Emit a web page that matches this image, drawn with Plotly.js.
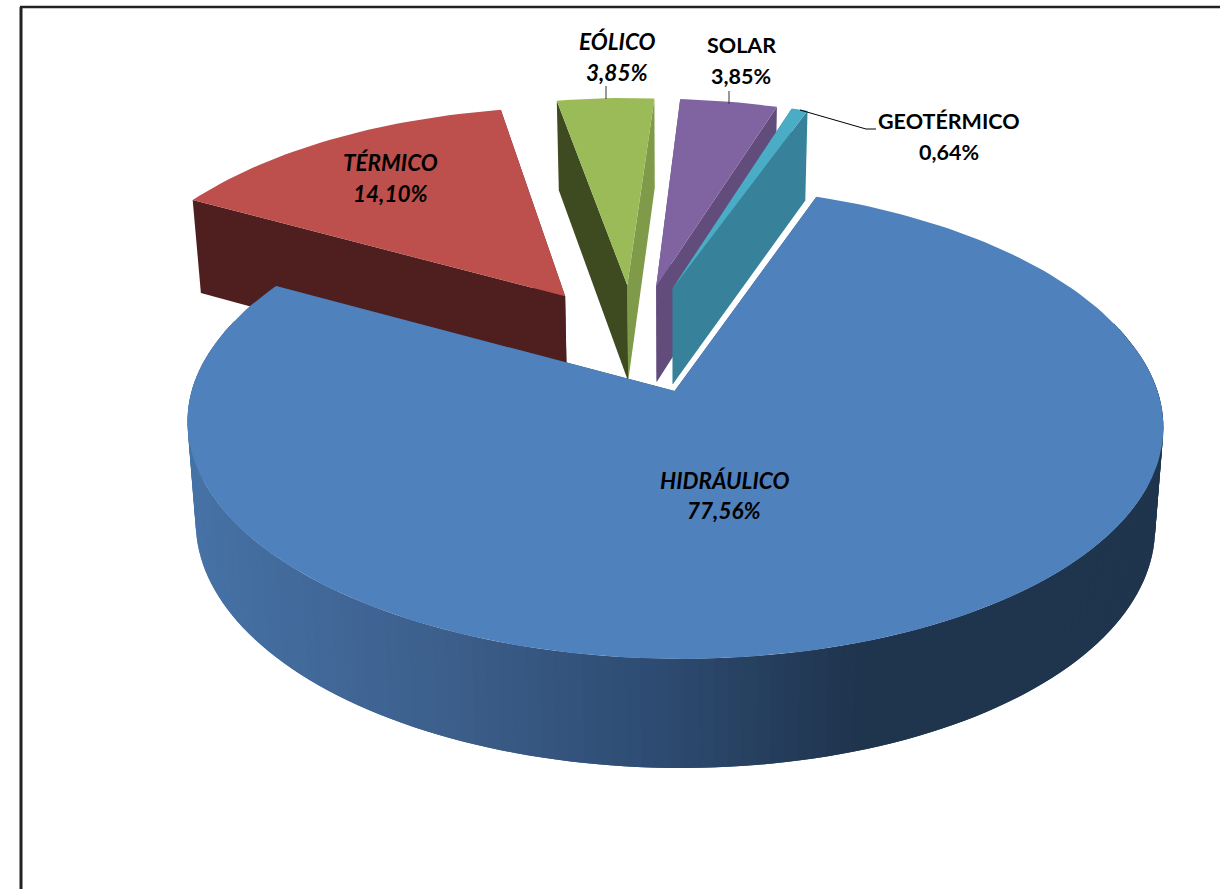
<!DOCTYPE html>
<html><head><meta charset="utf-8">
<script src="https://cdn.plot.ly/plotly-3.0.1.min.js"></script>
<style>html,body{margin:0;padding:0;background:#fff;overflow:hidden}</style></head>
<body><div id="chart" style="width:1220px;height:889px"></div>
<script>
const categories=["HIDRÁULICO","TÉRMICO","EÓLICO","SOLAR","GEOTÉRMICO"];
const values=[77.56,14.10,3.85,3.85,0.64];
const topColors=["#4F81BD","#BD4F4C","#9BBB59","#8064A2","#4BACC6"];
const startWall=["#2E4C73","#4E1F1E","#3E4B20","#624C7C","#37829A"];
const endWall=["#2E4C73","#4E1F1E","#7F9A48","#624C7C","#37829A"];
const pull=[0.24,0.26,0.265,0.265,0.265];
const labelItalic=[true,true,true,false,false];
const rimStops=[[190,[70,114,166]],[450,[60,94,138]],[650,[46,76,115]],[860,[31,52,77]],[1220,[31,52,77]]];
const firstAngle=19.9;

const D=Math.PI/180;
function proj(u,v,low){
  const wx=1+(v>0?0.124:0.138)*v, wy=1+(v>0?0.097:0.138)*v;
  const x=634+468*u/wx, y=341-215.7*v/wy;
  if(!low) return [x,y];
  return [676+(x-676)*0.983, y+86+0.035*y];
}
function rimColor(x){
  for(let i=1;i<rimStops.length;i++){
    if(x<=rimStops[i][0]){
      const a=rimStops[i-1],b=rimStops[i];
      const t=Math.max(0,(x-a[0])/(b[0]-a[0]));
      return 'rgb('+a[1].map((c,k)=>Math.round(c+(b[1][k]-c)*t)).join(',')+')';
    }
  }
  return 'rgb(31,52,77)';
}
function poly(pts,color,name){
  return {type:'scatter',mode:'lines',x:pts.map(p=>p[0]).concat(pts[0][0]),y:pts.map(p=>p[1]).concat(pts[0][1]),
    fill:'toself',fillcolor:color,line:{color:color,width:0},hoverinfo:'skip',showlegend:false,name:name};
}
const total=values.reduce((a,b)=>a+b,0);
let ang=firstAngle;
const slices=values.map((val,i)=>{
  const span=val/total*360, s={i,a0:ang,a1:ang+span,mid:ang+span/2};
  ang+=span; return s;
});
const traces=[];
// far slices first, nearest slice last
[1,2,3,4,0].forEach(i=>{
  const s=slices[i], ox=pull[i]*Math.sin(s.mid*D), oy=pull[i]*Math.cos(s.mid*D);
  const pt=(deg,r,low)=>proj(ox+r*Math.sin(deg*D),oy+r*Math.cos(deg*D),low);
  const n=Math.max(4,Math.ceil((s.a1-s.a0)/1.5));
  const arc=[];for(let k=0;k<=n;k++)arc.push(s.a0+(s.a1-s.a0)*k/n);
  // radial cut walls
  traces.push(poly([pt(s.a1,0,false),pt(s.a1,1,false),pt(s.a1,1,true),pt(s.a1,0,true)],endWall[i],categories[i]+' pared'));
  traces.push(poly([pt(s.a0,0,false),pt(s.a0,1,false),pt(s.a0,1,true),pt(s.a0,0,true)],startWall[i],categories[i]+' pared'));
  // outer rim: each band runs on under the next one, which hides the seams
  for(let k=0;k<n;k++){
    const m=(arc[k]+arc[k+1])/2;
    if(Math.cos(m*D)>0.3) continue;
    const e=arc[Math.min(k+2,n)];
    const q=[pt(arc[k],1,false),pt(e,1,false),pt(e,1,true),pt(arc[k],1,true)];
    const c=pt(m,1,false)[0];
    traces.push(poly(q,i===0?rimColor(c):startWall[i],categories[i]+' borde'));
  }
  // top face
  traces.push(poly([pt(0,0,false)].concat(arc.map(a=>pt(a,1,false))),topColors[i],categories[i]));
});
const fmt=v=>v.toFixed(2).replace('.',',')+'%';
const labelX=[724,390,617,741,949];
const nameY=[480,162,41,45,121];
const valueY=[510,193,72,76,152];
const annotations=[];
categories.forEach((c,i)=>{
  const w=t=>labelItalic[i]?'<b><i>'+t+'</i></b>':'<b>'+t+'</b>';
  const font={family:'Lato, Carlito, sans-serif',size:labelItalic[i]?22.5:21.5,color:'#000'};
  [[c,nameY[i]],[fmt(values[i]),valueY[i]]].forEach(([t,y])=>annotations.push(
    {x:labelX[i],y,xref:'x',yref:'y',showarrow:false,xanchor:'center',yanchor:'middle',align:'center',text:w(t),font}));
});
const line=(x0,y0,x1,y1,col,wd)=>({type:'line',xref:'x',yref:'y',x0,y0,x1,y1,layer:'above',line:{color:col,width:wd}});
const shapes=[
  line(21,7,21,889,'#222',3),line(20,7,1220,7,'#222',2.5),
  line(606,86,606,99,'#333',1),line(729,91,729,104,'#333',1),
  line(800,110,866,129,'#000',1),line(866,129,876,129,'#000',1)
];
Plotly.newPlot('chart',traces,{
  width:1220,height:889,margin:{l:0,r:0,t:0,b:0},paper_bgcolor:'#fff',plot_bgcolor:'#fff',showlegend:false,
  xaxis:{range:[0,1220],visible:false,fixedrange:true},
  yaxis:{range:[889,0],visible:false,fixedrange:true},
  annotations,shapes
},{displayModeBar:false,staticPlot:true});
</script></body></html>
